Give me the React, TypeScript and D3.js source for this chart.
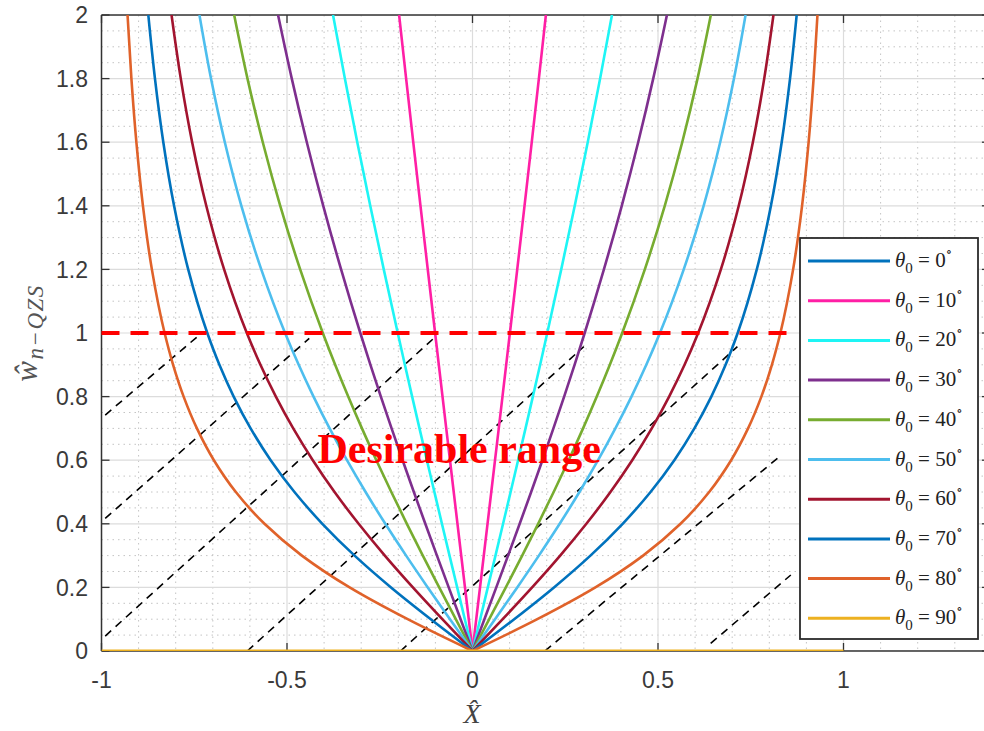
import React from "react";
import * as d3 from "d3";

// ---- data ----
const wLevels = [0, 0.1, 0.2, 0.3, 0.4, 0.5, 0.6, 0.7, 0.8, 0.9, 1.0, 1.2, 1.4, 1.6, 1.8, 2.0];
const xTheta10 = [0, 0.0101, 0.0203, 0.0304, 0.0405, 0.0506, 0.0607, 0.0708, 0.0808, 0.0908, 0.1008, 0.1206, 0.1402, 0.1597, 0.1789, 0.1978];
const xTheta20 = [0, 0.0207, 0.0413, 0.0619, 0.0824, 0.1027, 0.1229, 0.1429, 0.1627, 0.1823, 0.2015, 0.2392, 0.2756, 0.3106, 0.344, 0.3759];
const xTheta30 = [0, 0.0321, 0.0641, 0.0958, 0.1272, 0.1581, 0.1884, 0.2181, 0.247, 0.2751, 0.3024, 0.3542, 0.4023, 0.4466, 0.4871, 0.5241];
const xTheta40 = [0, 0.0451, 0.0898, 0.1339, 0.1769, 0.2188, 0.2592, 0.298, 0.335, 0.3702, 0.4035, 0.4645, 0.5182, 0.5653, 0.6065, 0.6424];
const xTheta50 = [0, 0.0607, 0.1206, 0.1789, 0.235, 0.2882, 0.3384, 0.3851, 0.4285, 0.4685, 0.5052, 0.5694, 0.623, 0.6676, 0.7048, 0.736];
const xTheta60 = [0, 0.0813, 0.1607, 0.2363, 0.3069, 0.3718, 0.4305, 0.4832, 0.53, 0.5716, 0.6083, 0.6695, 0.7176, 0.7557, 0.7863, 0.8112];
const xTheta70 = [0, 0.1124, 0.2196, 0.3178, 0.4047, 0.4799, 0.544, 0.5981, 0.6437, 0.6822, 0.7148, 0.7663, 0.8044, 0.8334, 0.8559, 0.8738];
const xTheta80 = [0, 0.1747, 0.3312, 0.4599, 0.5607, 0.6379, 0.6971, 0.7428, 0.7786, 0.807, 0.8299, 0.8642, 0.8883, 0.906, 0.9194, 0.9298];
const theta90Segment = [[-1, 0], [1, 0]];

const thetaLabels = ["0", "10", "20", "30", "40", "50", "60", "70", "80", "90"];
const thetaColors = ["#0072BD", "#FF1FA5", "#1EF5F5", "#7E2F8E", "#77AC30", "#4DBEEE", "#A2142F", "#0072BD", "#E0622A", "#EDB120"];
const thetaCurves = [null, xTheta10, xTheta20, xTheta30, xTheta40, xTheta50, xTheta60, xTheta70, xTheta80, null];

const xTickValues = [-1, -0.5, 0, 0.5, 1];
const xTickLabels = ["-1", "-0.5", "0", "0.5", "1"];
const yTickValues = [0, 0.2, 0.4, 0.6, 0.8, 1, 1.2, 1.4, 1.6, 1.8, 2];
const yTickLabels = ["0", "0.2", "0.4", "0.6", "0.8", "1", "1.2", "1.4", "1.6", "1.8", "2"];

// dashed guide lines [x1, y1, x2, y2]
const guideLines = [
  [-0.99, 0.742, -0.742, 0.988],
  [-0.99, 0.417, -0.44, 0.983],
  [-0.99, 0.047, -0.1, 0.988],
  [-0.607, 0, 0.3, 0.957],
  [-0.194, 0, 0.714, 0.957],
  [0.195, 0, 0.822, 0.606],
  [0.642, 0.024, 0.858, 0.239],
];
const thresholdLine = [-1, 1, 0.849, 1];
const annotation = { text: "Desirable range", x: -0.418, y: 0.59 };

const W = 984;
const H = 731;

export default function App() {
  const x = d3.scaleLinear().domain([-1, 1.4]).range([101.5, 991.9]);
  const y = d3.scaleLinear().domain([0, 2]).range([651, 15]);
  const left = x(-1), right = x(1.4), top = y(2), bottom = y(0);

  const minorX = d3.range(-10, 15).map((i) => i / 10).filter((v) => Math.abs((v * 2) - Math.round(v * 2)) > 1e-6);
  const minorY = d3.range(0, 41).map((i) => i * 0.05).filter((v) => Math.abs(v * 5 - Math.round(v * 5)) > 1e-6);
  const majorX = [-1, -0.5, 0, 0.5, 1];
  const majorY = yTickValues;

  const half = d3
    .line<[number, number]>()
    .x((d) => x(d[0]))
    .y((d) => y(d[1]))
    .curve(d3.curveMonotoneY);

  const axisColor = "#333333";
  const labelColor = "#3a3a3a";

  const legendTop = 261;
  const legendStep = 39.7;

  return (
    <svg width={W} height={H} style={{ position: "absolute", left: 0, top: 0, background: "#fff" }}>
      <defs>
        <clipPath id="plotClip">
          <rect x={left} y={top} width={right - left} height={bottom - top} />
        </clipPath>
      </defs>
      <rect x={0} y={0} width={W} height={H} fill="#fff" />
      {/* grid */}
      <g clipPath="url(#plotClip)">
        {minorX.map((v) => (
          <line key={"mx" + v} x1={x(v)} x2={x(v)} y1={top} y2={bottom} stroke="#c4c4c4" strokeWidth={1} strokeDasharray="1.5,4" />
        ))}
        {minorY.map((v) => (
          <line key={"my" + v} x1={left} x2={right} y1={y(v)} y2={y(v)} stroke="#c4c4c4" strokeWidth={1} strokeDasharray="1.5,4" />
        ))}
        {majorX.map((v) => (
          <line key={"Mx" + v} x1={x(v)} x2={x(v)} y1={top} y2={bottom} stroke="#dcdcdc" strokeWidth={1.2} />
        ))}
        {majorY.map((v) => (
          <line key={"My" + v} x1={left} x2={right} y1={y(v)} y2={y(v)} stroke="#dcdcdc" strokeWidth={1.2} />
        ))}
      </g>

      {/* axes box */}
      <line x1={left} x2={right} y1={top} y2={top} stroke={axisColor} strokeWidth={1.5} />
      <line x1={left} x2={right} y1={bottom} y2={bottom} stroke={axisColor} strokeWidth={1.5} />
      <line x1={left} x2={left} y1={top} y2={bottom} stroke={axisColor} strokeWidth={1.5} />
      <line x1={right} x2={right} y1={top} y2={bottom} stroke={axisColor} strokeWidth={1.5} />
      {xTickValues.map((v) => (
        <g key={"xt" + v}>
          <line x1={x(v)} x2={x(v)} y1={bottom} y2={bottom - 8} stroke={axisColor} strokeWidth={1.3} />
          <line x1={x(v)} x2={x(v)} y1={top} y2={top + 8} stroke={axisColor} strokeWidth={1.3} />
        </g>
      ))}
      {yTickValues.map((v) => (
        <g key={"yt" + v}>
          <line x1={left} x2={left + 8} y1={y(v)} y2={y(v)} stroke={axisColor} strokeWidth={1.3} />
          <line x1={right - 10} x2={right} y1={y(v)} y2={y(v)} stroke={axisColor} strokeWidth={1.3} />
        </g>
      ))}

      {/* guide lines */}
      <g clipPath="url(#plotClip)">
        {guideLines.map((g, i) => (
          <line key={"g" + i} x1={x(g[0])} y1={y(g[1])} x2={x(g[2])} y2={y(g[3])} stroke="#000" strokeWidth={1.6} strokeDasharray="8,6" />
        ))}
      </g>

      {/* curves */}
      <g clipPath="url(#plotClip)">
        {thetaCurves.map((xs, ci) => {
          if (!xs) return null;
          const rightPts = wLevels.map((w, i) => [xs[i], w] as [number, number]);
          const leftPts = wLevels.map((w, i) => [-xs[i], w] as [number, number]);
          return (
            <g key={"c" + ci}>
              <path d={half(leftPts) || ""} fill="none" stroke={thetaColors[ci]} strokeWidth={2.6} />
              <path d={half(rightPts) || ""} fill="none" stroke={thetaColors[ci]} strokeWidth={2.6} />
            </g>
          );
        })}
        <line
          x1={x(theta90Segment[0][0])}
          y1={y(theta90Segment[0][1])}
          x2={x(theta90Segment[1][0])}
          y2={y(theta90Segment[1][1])}
          stroke={thetaColors[9]}
          strokeWidth={3.2}
        />
      </g>

      {/* threshold */}
      <line
        x1={x(thresholdLine[0])}
        y1={y(thresholdLine[1])}
        x2={x(thresholdLine[2])}
        y2={y(thresholdLine[3])}
        stroke="#FF0000"
        strokeWidth={4}
        strokeDasharray="18,11"
      />

      <text
        x={x(annotation.x)}
        y={y(annotation.y)}
        fill="#FF0000"
        fontFamily="'Liberation Serif', 'Times New Roman', serif"
        fontWeight="bold"
        fontSize={42}
      >
        {annotation.text}
      </text>

      {/* tick labels */}
      {xTickValues.map((v, i) => (
        <text key={"xl" + v} x={x(v)} y={688} textAnchor="middle" fontFamily="'Liberation Sans', Arial, sans-serif" fontSize={23} fill={labelColor}>
          {xTickLabels[i]}
        </text>
      ))}
      {yTickValues.map((v, i) => (
        <text key={"yl" + v} x={88} y={y(v)} dy="0.36em" textAnchor="end" fontFamily="'Liberation Sans', Arial, sans-serif" fontSize={23} fill={labelColor}>
          {yTickLabels[i]}
        </text>
      ))}

      {/* axis labels */}
      <text x={472} y={723} textAnchor="middle" fontFamily="'Liberation Serif', 'Times New Roman', serif" fontStyle="italic" fontSize={28} fill="#444">
        {"X\u0302"}
      </text>
      <g transform="translate(37,333) rotate(-90)">
        <text textAnchor="middle" fontFamily="'Liberation Serif', 'Times New Roman', serif" fontStyle="italic" fill="#555" letterSpacing={1.5}>
          <tspan fontSize={31}>ŵ</tspan>
          <tspan fontSize={23} dy={6}>n−QZS</tspan>
        </text>
      </g>

      {/* legend */}
      <rect x={800} y={238} width={178} height={401} fill="#fff" stroke="#2b2b2b" strokeWidth={1.8} />
      {thetaLabels.map((lab, i) => {
        const cy = legendTop + i * legendStep;
        return (
          <g key={"lg" + i}>
            <line x1={808} x2={890} y1={cy} y2={cy} stroke={thetaColors[i]} strokeWidth={3} />
            <text x={895} y={cy + 6} fontFamily="'Liberation Serif', 'Times New Roman', serif" fontSize={21} fill="#222">
              <tspan fontStyle="italic">θ</tspan>
              <tspan fontSize={15} dy={6}>0</tspan>
              <tspan dy={-6}>{" = " + lab}</tspan>
              <tspan fontSize={13} dy={-11} fontFamily="'DejaVu Serif', serif">∘</tspan>
            </text>
          </g>
        );
      })}
    </svg>
  );
}
